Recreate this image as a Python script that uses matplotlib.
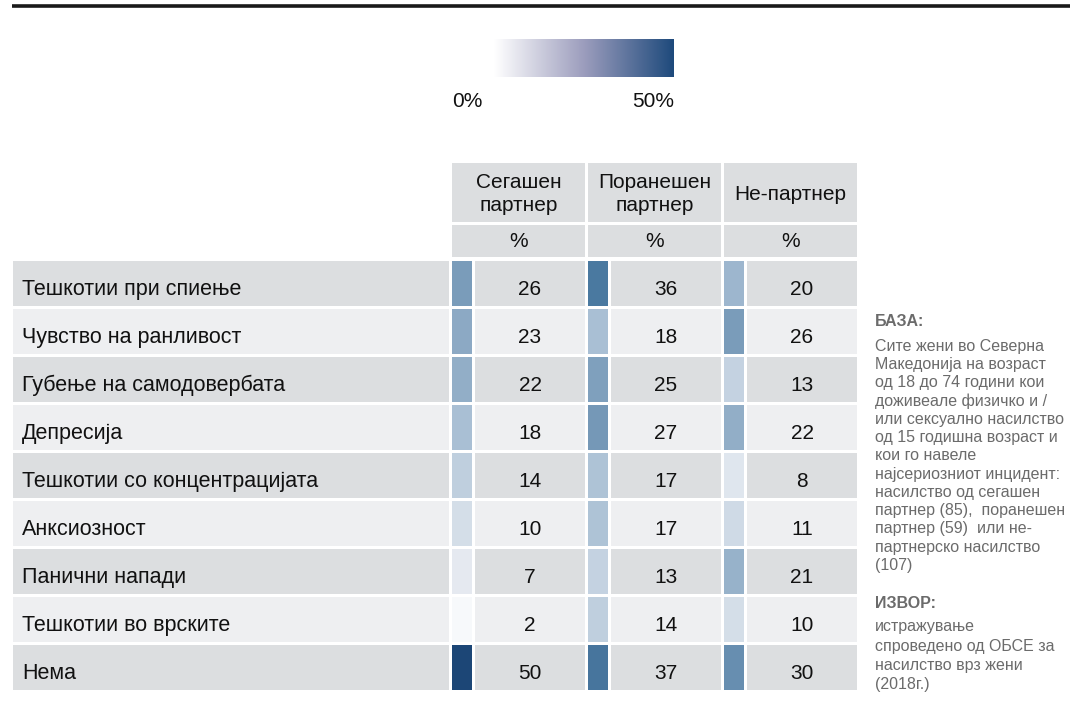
import numpy as np
import matplotlib
matplotlib.use("Agg")
import matplotlib.pyplot as plt
from matplotlib.patches import Rectangle
from matplotlib.colors import LinearSegmentedColormap, Normalize

plt.rcParams['font.family'] = ['Liberation Sans', 'DejaVu Sans']

# ---------------- data ----------------
labels = ['Тешкотии при спиење', 'Чувство на ранливост', 'Губење на самодовербата',
          'Депресија', 'Тешкотии со концентрацијата', 'Анксиозност',
          'Панични напади', 'Тешкотии во врските', 'Нема']
columns = ['Сегашен\nпартнер', 'Поранешен\nпартнер', 'Не-партнер']
current = [26, 23, 22, 18, 14, 10, 7, 2, 50]
former = [36, 18, 25, 27, 17, 17, 13, 14, 37]
non_partner = [20, 26, 13, 22, 8, 11, 21, 10, 30]
series = [current, former, non_partner]

base_title = 'БАЗА:'
base_text = ['Сите жени во Северна', 'Македонија на возраст', 'од 18 до 74 години кои',
             'доживеале физичко и /', 'или сексуално насилство', 'од 15 годишна возраст и',
             'кои го навеле', 'најсериозниот инцидент:', 'насилство од сегашен',
             'партнер (85),  поранешен', 'партнер (59)  или не-',
             'партнерско насилство', '(107)']
src_title = 'ИЗВОР:'
src_text = ['истражување', 'спроведено од ОБСЕ за', 'насилство врз жени', '(2018г.)']

# ---------------- styling ----------------
cell_cmap = LinearSegmentedColormap.from_list(
    'cells', [(0, '#ffffff'), (0.14, '#e4e9f0'), (0.36, '#a9bfd4'),
              (0.52, '#7a9cba'), (0.72, '#4a79a0'), (1.0, '#1c4676')])
legend_cmap = LinearSegmentedColormap.from_list(
    'legend', ['#ffffff', '#9c9dbd', '#1e4a7c'])
norm = Normalize(0, 50)

dark_row = '#dcdee0'
light_row = '#eeeff1'
txt = '#111111'
grey = '#6b6b6b'
fs = 15

fig = plt.figure(figsize=(10.7, 7.13), dpi=100)
ax = fig.add_axes([0, 0, 1, 1])
ax.set_xlim(0, 1070)
ax.set_ylim(713, 0)
ax.axis('off')

# top rule
ax.plot([12, 1070], [6, 6], color='#1a1a1a', lw=2.6, solid_capstyle='butt')

# legend gradient
grad = np.linspace(0, 50, 256).reshape(1, -1)
ax.imshow(grad, cmap=legend_cmap, norm=norm, extent=[494, 674, 77, 39], aspect='auto')
ax.text(467, 107, '0%', ha='center', va='baseline', fontsize=fs, color=txt)
ax.text(653, 107, '50%', ha='center', va='baseline', fontsize=fs, color=txt)

# table geometry
label_x0, label_x1 = 13, 449
col_x0 = [452, 588, 724]
col_x1 = [585, 721, 857]
sw_w = 20
row_top = 261
pitch = 48
row_h = 45

# headers
for k, name in enumerate(columns):
    x0, x1 = col_x0[k], col_x1[k]
    ax.add_patch(Rectangle((x0, 163), x1 - x0, 59, color=dark_row, lw=0))
    ax.text((x0 + x1) / 2, 194, name, ha='center', va='center', fontsize=fs,
            color=txt, linespacing=1.25)
    ax.add_patch(Rectangle((x0, 225), x1 - x0, 32, color=dark_row, lw=0))
    ax.text((x0 + x1) / 2, 247, '%', ha='center', va='baseline', fontsize=fs, color=txt)

# body rows
for i, lab in enumerate(labels):
    y0 = row_top + i * pitch
    yb = y0 + 34
    bg = dark_row if i % 2 == 0 else light_row
    ax.add_patch(Rectangle((label_x0, y0), label_x1 - label_x0, row_h, color=bg, lw=0))
    ax.text(22, yb, lab, ha='left', va='baseline', fontsize=15.5, color=txt)
    for k, vals in enumerate(series):
        v = vals[i]
        x0, x1 = col_x0[k], col_x1[k]
        ax.add_patch(Rectangle((x0, y0), sw_w, row_h, color=cell_cmap(norm(v)), lw=0))
        nx0 = x0 + sw_w + 3
        ax.add_patch(Rectangle((nx0, y0), x1 - nx0, row_h, color=bg, lw=0))
        ax.text((nx0 + x1) / 2, yb, str(v), ha='center', va='baseline', fontsize=fs, color=txt)

# notes on the right
ax.text(875, 321, base_title, ha='left', va='center', fontsize=11.5, fontweight='bold', color=grey)
for j, line in enumerate(base_text):
    ax.text(875, 346 + j * 18.3, line, ha='left', va='center', fontsize=11.5, color=grey)
ax.text(875, 603, src_title, ha='left', va='center', fontsize=11.5, fontweight='bold', color=grey)
for j, line in enumerate(src_text):
    ax.text(875, 627 + j * 19.3, line, ha='left', va='center', fontsize=11.5, color=grey)

fig.savefig('out.png', dpi=100)
